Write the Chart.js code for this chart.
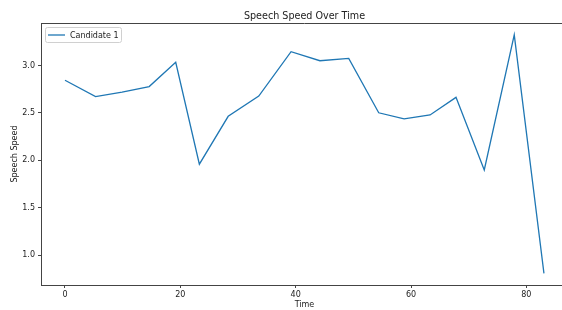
<!DOCTYPE html>
<html>
<head>
<meta charset="utf-8">
<script src="https://cdn.jsdelivr.net/npm/chart.js@4.4.1/dist/chart.umd.min.js"></script>
<style>
  html, body { margin: 0; padding: 0; background: #fff; overflow: hidden; }
  #wrap { width: 576px; height: 310px; }
</style>
</head>
<body>
<div id="wrap"><canvas id="chart" width="576" height="310"></canvas></div>
<script>
const chartTitle = 'Speech Speed Over Time';
const seriesLabel = 'Candidate 1';
const xTitle = 'Time';
const yTitle = 'Speech Speed';

const times = [0, 5.3, 9.9, 14.6, 19.2, 23.3, 28.3, 33.6, 39.2, 44.2, 49.2, 54.4, 58.8, 63.3, 67.8, 72.7, 77.9, 83.05];
const speeds = [2.845, 2.672, 2.72, 2.779, 3.034, 1.96, 2.465, 2.679, 3.147, 3.051, 3.076, 2.502, 2.437, 2.479, 2.665, 1.899, 3.324, 0.809];

const xTicks = [0, 20, 40, 60, 80];
const yTicks = [1.0, 1.5, 2.0, 2.5, 3.0];

const FONT = 'DejaVu Sans';
const LINE_COLOR = '#1f77b4';
const AXIS_COLOR = '#444';

// title, top spine and the in-axes legend, drawn like matplotlib does
const decorations = {
  id: 'decorations',
  afterDraw(chart) {
    const { ctx, chartArea } = chart;
    ctx.save();

    ctx.strokeStyle = AXIS_COLOR;
    ctx.lineWidth = 1;
    ctx.beginPath();
    ctx.moveTo(chartArea.left, Math.round(chartArea.top) + 0.5);
    ctx.lineTo(chartArea.right, Math.round(chartArea.top) + 0.5);
    ctx.stroke();

    ctx.fillStyle = '#222';
    ctx.font = '9.6px "' + FONT + '"';
    ctx.textAlign = 'center';
    ctx.textBaseline = 'middle';
    ctx.fillText(chartTitle, (chartArea.left + chartArea.right) / 2, 16);

    // legend box
    const bx = 45.5, by = 27.5, bw = 76, bh = 15;
    ctx.fillStyle = 'rgba(255,255,255,0.8)';
    ctx.strokeStyle = '#d0d0d0';
    ctx.lineWidth = 1;
    ctx.beginPath();
    ctx.roundRect(bx, by, bw, bh, 2);
    ctx.fill();
    ctx.stroke();

    ctx.strokeStyle = LINE_COLOR;
    ctx.lineWidth = 1.3;
    ctx.beginPath();
    ctx.moveTo(48, 35);
    ctx.lineTo(65, 35);
    ctx.stroke();

    ctx.fillStyle = '#222';
    ctx.font = '8px "' + FONT + '"';
    ctx.textAlign = 'left';
    ctx.fillText(chart.data.datasets[0].label, 70, 35.5);

    ctx.restore();
  }
};

new Chart(document.getElementById('chart'), {
  type: 'line',
  data: {
    datasets: [
      {
        label: seriesLabel,
        data: times.map((t, i) => ({ x: t, y: speeds[i] })),
        borderColor: LINE_COLOR,
        borderWidth: 1.3,
        pointRadius: 0,
        tension: 0,
        fill: false
      }
    ]
  },
  options: {
    responsive: false,
    animation: false,
    layout: { padding: { top: 23, right: 8, bottom: 0, left: 0 } },
    plugins: {
      legend: { display: false },
      title: { display: false },
      tooltip: { enabled: false }
    },
    scales: {
      x: {
        type: 'linear',
        min: -4.16,
        max: 87.22,
        afterBuildTicks: (scale) => { scale.ticks = xTicks.map(v => ({ value: v })); },
        afterFit: (scale) => { scale.height = 25; },
        grid: { drawOnChartArea: false, drawTicks: true, tickLength: 3, color: AXIS_COLOR },
        border: { display: true, color: AXIS_COLOR, width: 1 },
        ticks: {
          padding: 2,
          color: '#222',
          font: { family: FONT, size: 8 },
          callback: (v) => String(v)
        },
        title: {
          display: true,
          text: xTitle,
          color: '#222',
          font: { family: FONT, size: 8 },
          padding: { top: 0, bottom: 0 }
        }
      },
      y: {
        min: 0.686,
        max: 3.449,
        afterBuildTicks: (scale) => { scale.ticks = yTicks.map(v => ({ value: v })); },
        afterFit: (scale) => { scale.width = 41; },
        grid: { drawOnChartArea: false, drawTicks: true, tickLength: 3, color: AXIS_COLOR },
        border: { display: true, color: AXIS_COLOR, width: 1 },
        ticks: {
          padding: 3,
          color: '#222',
          font: { family: FONT, size: 8 },
          callback: (v) => Number(v).toFixed(1)
        },
        title: {
          display: true,
          text: yTitle,
          color: '#222',
          font: { family: FONT, size: 8 },
          padding: { top: 10, bottom: 0 }
        }
      }
    }
  },
  plugins: [decorations]
});
</script>
</body>
</html>
